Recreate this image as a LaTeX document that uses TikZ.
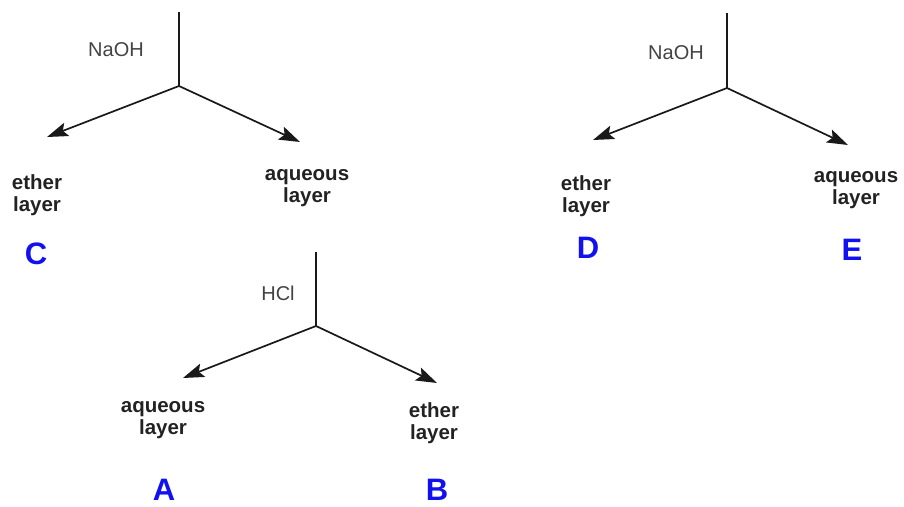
\documentclass[tikz,border=0pt]{standalone}
\usepackage{fontspec}
\setmainfont{Liberation Sans}
\usetikzlibrary{arrows.meta}
\definecolor{txt}{HTML}{222222}
\definecolor{lbl}{HTML}{1010F0}
\begin{document}
\begin{tikzpicture}[x=1pt,y=-1pt,
  ln/.style={line width=1.7pt,color=black!90},
  arr/.style={ln,-{Stealth[length=21pt,width=14pt,inset=4pt]}},
  reag/.style={font=\fontsize{20}{22}\selectfont,text=txt!85,inner sep=0pt},
  layerlbl/.style={font=\fontsize{20.5}{22}\selectfont\bfseries,text=txt,align=center,inner sep=0pt},
  letter/.style={font=\fontsize{31}{34}\selectfont\bfseries,text=lbl,inner sep=0pt}]
\useasboundingbox (0,0) rectangle (904,506);
% tree 1
\coordinate (t1) at (179,12);
\coordinate (j1) at (179,86);
\coordinate (l1) at (47,137);
\coordinate (r1) at (300,142);
\draw[ln] (t1) -- (j1);
\draw[arr] (j1) -- (l1);
\draw[arr] (j1) -- (r1);
\node[reag] (naoh1) at (116,50) {NaOH};
\node[layerlbl] (eth1) at (37,195) {ether\\layer};
\node[layerlbl] (aq1) at (307,188) {aqueous\\layer};
\node[letter] (C) at (36,254) {C};
% tree 2
\coordinate (t2) at (316,252);
\coordinate (j2) at (316,326);
\coordinate (l2) at (183,378);
\coordinate (r2) at (437,383);
\draw[ln] (t2) -- (j2);
\draw[arr] (j2) -- (l2);
\draw[arr] (j2) -- (r2);
\node[reag] (hcl) at (278,293) {HCl};
\node[layerlbl] (aq2) at (163,420) {aqueous\\layer};
\node[layerlbl] (eth2) at (434,423) {ether\\layer};
\node[letter] (A) at (164,490) {A};
\node[letter] (B) at (437,490) {B};
% tree 3
\coordinate (t3) at (727,13);
\coordinate (j3) at (727,88);
\coordinate (l3) at (593,140);
\coordinate (r3) at (848,145);
\draw[ln] (t3) -- (j3);
\draw[arr] (j3) -- (l3);
\draw[arr] (j3) -- (r3);
\node[reag] (naoh2) at (676,53) {NaOH};
\node[layerlbl] (eth3) at (586,196) {ether\\layer};
\node[layerlbl] (aq3) at (856,190) {aqueous\\layer};
\node[letter] (D) at (588,248) {D};
\node[letter] (E) at (852,250) {E};
\end{tikzpicture}
\end{document}
